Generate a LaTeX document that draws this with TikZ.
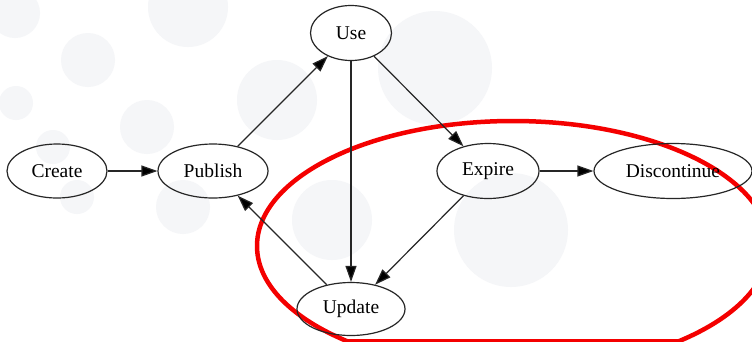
\documentclass[tikz,border=0pt]{standalone}
\usepackage{fontspec}
\setmainfont{Liberation Serif}
\usetikzlibrary{arrows.meta,shapes.geometric}
\definecolor{dotgray}{HTML}{F5F6F8}
\definecolor{markred}{HTML}{F40000}
\tikzset{
  state/.style={ellipse, draw=black!85, line width=1.2pt, inner sep=0pt,
    font=\fontsize{19.5}{22}\selectfont},
  flow/.style={draw=black!85, line width=1.2pt,
    -{Triangle[length=16pt,width=11pt,fill=black]}},
  bgdot/.style={fill=dotgray, draw=none},
  ringline/.style={draw=markred, line width=4.5pt}
}
\begin{document}
\begin{tikzpicture}[x=1pt,y=-1pt]
  \useasboundingbox (0,0) rectangle (752,341);
  \clip (0,0) rectangle (752,341);
  \fill[white] (0,0) rectangle (752,341);
  % soft background dots
  \foreach \cx/\cy/\r in {15/13/25, 188/7/40, 88/60/27, 16/103/17, 147/127/27,
      53/147/17, 77/197/17, 183/207/27, 277/100/40, 435/68/57, 332/220/40,
      511/230/57}
    \fill[bgdot] (\cx,\cy) circle[radius=\r];
  % highlight ring, flattened along the lower edge
  \draw[ringline] (513,246) ellipse[x radius=256, y radius=125];
  \coordinate (ringL) at (346,341);
  \coordinate (ringR) at (680,341);
  \draw[ringline] (ringL) -- (ringR);
  % states
  \node[state, minimum width=100pt, minimum height=54pt] (create) at (57,171) {Create};
  \node[state, minimum width=110pt, minimum height=54pt] (publish) at (213,171) {Publish};
  \node[state, minimum width=81pt, minimum height=55pt] (use) at (351,33) {Use};
  \node[state, minimum width=102pt, minimum height=55pt] (expire) at (488,171) {Expire};
  \node[state, minimum width=158pt, minimum height=55pt] (discontinue) at (673,171) {Discontinue};
  \node[state, minimum width=108pt, minimum height=53pt] (update) at (351,309) {Update};
  % transitions
  \draw[flow] (create) -- (publish);
  \draw[flow] (publish) -- (use);
  \draw[flow] (use) -- (update);
  \draw[flow] (use) -- (expire);
  \draw[flow] (expire) -- (discontinue);
  \draw[flow] (expire) -- (update);
  \draw[flow] (update) -- (publish);
\end{tikzpicture}
\end{document}
